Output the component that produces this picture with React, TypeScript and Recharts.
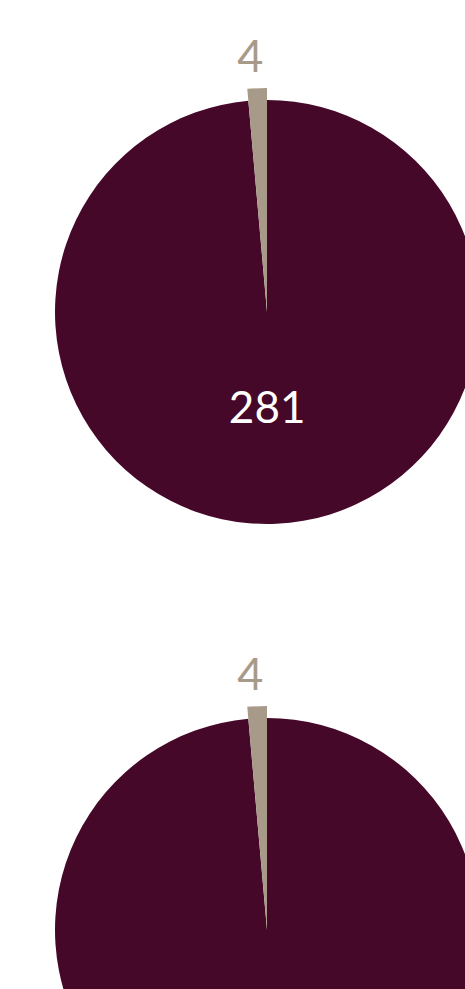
import { PieChart, Pie, Cell } from "recharts";

const categories = ["Minor", "Major"];
const topValues = [4, 281];
const bottomValues = [4, 281];
const COLORS = ["#a89a88", "#450828"];
const RAD = Math.PI / 180;

function buildData(values: number[]) {
  return categories.map((name, i) => ({ name, value: values[i] }));
}

function OuterLabel(props: any) {
  const { cx, cy, midAngle, outerRadius, index, value } = props;
  if (index !== 0) return null;
  const r = outerRadius + 34;
  const x = cx + r * Math.cos(-(midAngle + 1.2) * RAD);
  const y = cy + r * Math.sin(-(midAngle + 1.2) * RAD);
  return (
    <text x={x} y={y} fill={COLORS[0]} fontSize={45} fontFamily="Lato, 'Noto Sans', sans-serif" fontWeight={400} textAnchor="middle" dominantBaseline="central">
      {value}
    </text>
  );
}

function InnerLabel(props: any) {
  const { cx, cy, midAngle, index, value } = props;
  if (index !== 1) return null;
  const r = 94;
  const x = cx + r * Math.cos(-midAngle * RAD) - 4;
  const y = cy + r * Math.sin(-midAngle * RAD);
  return (
    <text x={x} y={y} fill="#ffffff" fontSize={44} fontFamily="Lato, 'Noto Sans', sans-serif" fontWeight={400} textAnchor="middle" dominantBaseline="central">
      {value}
    </text>
  );
}

// the second pie's inner label falls below the visible page, so it is left out
function OnePie({ values, showInner }: { values: number[]; showInner: boolean }) {
  const data = buildData(values);
  return (
    <PieChart width={465} height={618} margin={{ top: 0, right: 0, bottom: 0, left: 0 }}>
      <Pie data={data} dataKey="value" cx={267} cy={312} outerRadius={212} startAngle={90} endAngle={450}
        stroke="none" isAnimationActive={false} label={showInner ? InnerLabel : false} labelLine={false}>
        {data.map((_, i) => <Cell key={i} fill={i === 0 ? "transparent" : COLORS[1]} />)}
      </Pie>
      <Pie data={data} dataKey="value" cx={267} cy={312} outerRadius={224} startAngle={90} endAngle={450}
        stroke="none" isAnimationActive={false} label={OuterLabel} labelLine={false}>
        {data.map((_, i) => <Cell key={i} fill={i === 0 ? COLORS[0] : "transparent"} />)}
      </Pie>
    </PieChart>
  );
}

export default function App() {
  return (
    <div style={{ position: "fixed", left: 0, top: 0, width: 465, height: 989, overflow: "hidden", background: "#fff" }}>
      <OnePie values={topValues} showInner={true} />
      <OnePie values={bottomValues} showInner={false} />
    </div>
  );
}
